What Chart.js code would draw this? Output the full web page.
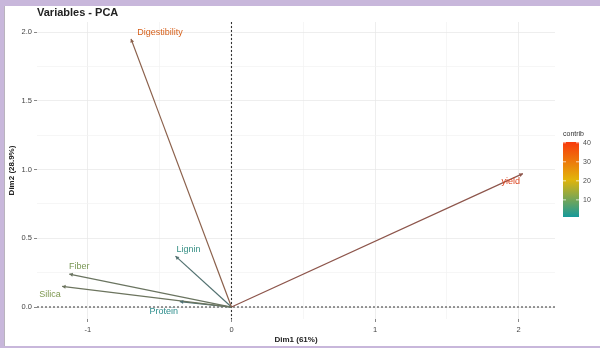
<!DOCTYPE html>
<html>
<head>
<meta charset="utf-8">
<script src="https://cdn.jsdelivr.net/npm/chart.js@4.4.1/dist/chart.umd.min.js"></script>
<style>
  html, body { margin: 0; padding: 0; background: #fff; }
  canvas { display: block; }
</style>
</head>
<body>
<canvas id="pca" width="600" height="348"></canvas>
<script>
// PCA variable coordinates on the first two dimensions and their contributions (%)
const variables = ['Digestibility', 'yield', 'Lignin', 'Fiber', 'Silica', 'Protein'];
const dim1 = [-0.70, 2.03, -0.39, -1.13, -1.18, -0.36];
const dim2 = [1.95, 0.97, 0.37, 0.24, 0.15, 0.04];
const contrib = [34.3, 40.4, 2.3, 10.6, 11.3, 1.0];

// Axis tick labels and colour-bar breaks
const xTickLabels = [-1, 0, 1, 2];
const yTickLabels = [0.0, 0.5, 1.0, 1.5, 2.0];
const legendTicks = [10, 20, 30, 40];

// Grid positions (major + minor) for each axis
const xGrid = [-1, -0.5, 0, 0.5, 1, 1.5, 2];
const yGrid = [0, 0.25, 0.5, 0.75, 1, 1.25, 1.5, 1.75, 2];

const FONT = 'Liberation Sans, Arial, sans-serif';
const gradientStops = ['#16999a', '#e2b40a', '#f83a0c'];

const cMin = Math.min(...contrib);
const cMax = Math.max(...contrib);

function hexToRgb(h) {
  const n = parseInt(h.slice(1), 16);
  return [(n >> 16) & 255, (n >> 8) & 255, n & 255];
}
function mix(a, b, t) {
  return a.map((v, i) => Math.round(v + (b[i] - v) * t));
}
function contribRgb(v) {
  const t = (v - cMin) / (cMax - cMin);
  const s = gradientStops.map(hexToRgb);
  return t <= 0.5 ? mix(s[0], s[1], t / 0.5) : mix(s[1], s[2], (t - 0.5) / 0.5);
}
function rgb(c) { return `rgb(${c[0]},${c[1]},${c[2]})`; }
function arrowRgb(v) { return mix(contribRgb(v), [100, 96, 100], 0.72); }
function labelRgb(v) { return mix(contribRgb(v), [120, 100, 90], 0.22); }

// Label placement relative to each arrow tip (pixels, text centre)
const labelOffset = {
  Digestibility: [29, -6],
  yield: [-12, 8],
  Lignin: [13, -7],
  Fiber: [10, -8],
  Silica: [-12, 8],
  Protein: [-16, 10]
};

const isHalf = v => Math.abs(v * 2 - Math.round(v * 2)) < 1e-9;

const frame = {
  id: 'frame',
  beforeDraw(chart) {
    const ctx = chart.ctx;
    ctx.save();
    ctx.fillStyle = '#c8b7db';
    ctx.fillRect(0, 0, chart.width, chart.height);
    ctx.fillStyle = '#ffffff';
    ctx.fillRect(5, 6, chart.width - 5, chart.height - 8);
    ctx.fillStyle = '#b9b3bd';
    ctx.fillRect(4, 6, 1, chart.height - 8);
    ctx.restore();
  }
};

const zeroLines = {
  id: 'zeroLines',
  beforeDatasetsDraw(chart) {
    const { ctx, chartArea: a, scales: { x, y } } = chart;
    const x0 = x.getPixelForValue(0), y0 = y.getPixelForValue(0);
    ctx.save();
    ctx.strokeStyle = '#333';
    ctx.lineWidth = 1.1;
    ctx.setLineDash([2, 2]);
    ctx.beginPath();
    ctx.moveTo(x0, a.top); ctx.lineTo(x0, a.bottom);
    ctx.moveTo(a.left, y0); ctx.lineTo(a.right, y0);
    ctx.stroke();
    ctx.restore();
  }
};

const arrowsAndLabels = {
  id: 'arrowsAndLabels',
  afterDatasetsDraw(chart) {
    const { ctx, scales: { x, y } } = chart;
    const ox = x.getPixelForValue(0), oy = y.getPixelForValue(0);
    ctx.save();
    variables.forEach((name, i) => {
      const px = x.getPixelForValue(dim1[i]);
      const py = y.getPixelForValue(dim2[i]);
      const ang = Math.atan2(py - oy, px - ox);
      const len = 4, spread = Math.PI / 6;
      ctx.fillStyle = rgb(arrowRgb(contrib[i]));
      ctx.beginPath();
      ctx.moveTo(px - len * Math.cos(ang - spread), py - len * Math.sin(ang - spread));
      ctx.lineTo(px, py);
      ctx.lineTo(px - len * Math.cos(ang + spread), py - len * Math.sin(ang + spread));
      ctx.closePath();
      ctx.fill();

      const [dx, dy] = labelOffset[name];
      ctx.fillStyle = rgb(labelRgb(contrib[i]));
      ctx.font = `9px ${FONT}`;
      ctx.textAlign = 'center';
      ctx.textBaseline = 'middle';
      ctx.fillText(name, px + dx, py + dy);
    });
    ctx.restore();
  }
};

const annotations = {
  id: 'annotations',
  afterDraw(chart) {
    const { ctx, chartArea: a } = chart;
    ctx.save();
    // title
    ctx.fillStyle = '#222';
    ctx.font = `bold 11px ${FONT}`;
    ctx.textAlign = 'left';
    ctx.textBaseline = 'middle';
    ctx.fillText('Variables - PCA', 37, 13);

    // axis titles
    ctx.fillStyle = '#222';
    ctx.font = `bold 8px ${FONT}`;
    ctx.textAlign = 'center';
    ctx.fillText('Dim1 (61%)', (a.left + a.right) / 2, 340);
    ctx.save();
    ctx.translate(12, (a.top + a.bottom) / 2);
    ctx.rotate(-Math.PI / 2);
    ctx.fillText('Dim2 (28.9%)', 0, 0);
    ctx.restore();

    // colour bar legend
    const bx = 563, bw = 16, top = 142, bottom = 217;
    const g = ctx.createLinearGradient(0, bottom, 0, top);
    gradientStops.forEach((c, i) => g.addColorStop(i / (gradientStops.length - 1), c));
    ctx.fillStyle = g;
    ctx.fillRect(bx, top, bw, bottom - top);

    ctx.fillStyle = '#333';
    ctx.font = `7px ${FONT}`;
    ctx.textAlign = 'left';
    ctx.fillText('contrib', bx, 134);

    ctx.fillStyle = '#4d4d4d';
    legendTicks.forEach(v => {
      const ty = bottom - (v - cMin) / (cMax - cMin) * (bottom - top);
      ctx.strokeStyle = 'rgba(255,255,255,0.9)';
      ctx.lineWidth = 0.8;
      ctx.beginPath();
      ctx.moveTo(bx, ty); ctx.lineTo(bx + 3, ty);
      ctx.moveTo(bx + bw - 3, ty); ctx.lineTo(bx + bw, ty);
      ctx.stroke();
      ctx.fillText(String(v), bx + bw + 4, ty);
    });
    ctx.restore();
  }
};

const datasets = variables.map((name, i) => ({
  label: name,
  data: [{ x: 0, y: 0 }, { x: dim1[i], y: dim2[i] }],
  showLine: true,
  borderColor: rgb(arrowRgb(contrib[i])),
  borderWidth: 1.2,
  pointRadius: 0,
  fill: false,
  clip: false
}));

new Chart(document.getElementById('pca'), {
  type: 'scatter',
  data: { datasets },
  options: {
    responsive: false,
    devicePixelRatio: 1,
    animation: false,
    layout: { padding: { left: 0, right: 45, top: 22, bottom: 0 } },
    plugins: { legend: { display: false }, tooltip: { enabled: false } },
    scales: {
      x: {
        type: 'linear',
        min: -1.355,
        max: 2.254,
        afterBuildTicks: s => { s.ticks = xGrid.map(v => ({ value: v })); },
        afterFit: s => { s.height = 29; },
        border: { display: false },
        grid: {
          color: c => Number.isInteger(c.tick.value) ? '#e6e6e6' : '#f2f2f2',
          lineWidth: 0.7,
          tickLength: 3,
          tickColor: c => Number.isInteger(c.tick.value) ? '#555' : 'rgba(0,0,0,0)'
        },
        ticks: {
          autoSkip: false,
          maxRotation: 0,
          padding: 3,
          color: '#444',
          font: { size: 7.5, family: FONT },
          callback: v => xTickLabels.includes(v) ? String(v) : ''
        }
      },
      y: {
        type: 'linear',
        min: -0.087,
        max: 2.073,
        afterBuildTicks: s => { s.ticks = yGrid.map(v => ({ value: v })); },
        afterFit: s => { s.width = 37; },
        border: { display: false },
        grid: {
          color: c => isHalf(c.tick.value) ? '#e6e6e6' : '#f2f2f2',
          lineWidth: 0.7,
          tickLength: 3,
          tickColor: c => isHalf(c.tick.value) ? '#555' : 'rgba(0,0,0,0)'
        },
        ticks: {
          autoSkip: false,
          padding: 2,
          color: '#444',
          font: { size: 7.5, family: FONT },
          callback: v => yTickLabels.some(t => Math.abs(t - v) < 1e-9) ? v.toFixed(1) : ''
        }
      }
    }
  },
  plugins: [frame, zeroLines, arrowsAndLabels, annotations]
});
</script>
</body>
</html>
